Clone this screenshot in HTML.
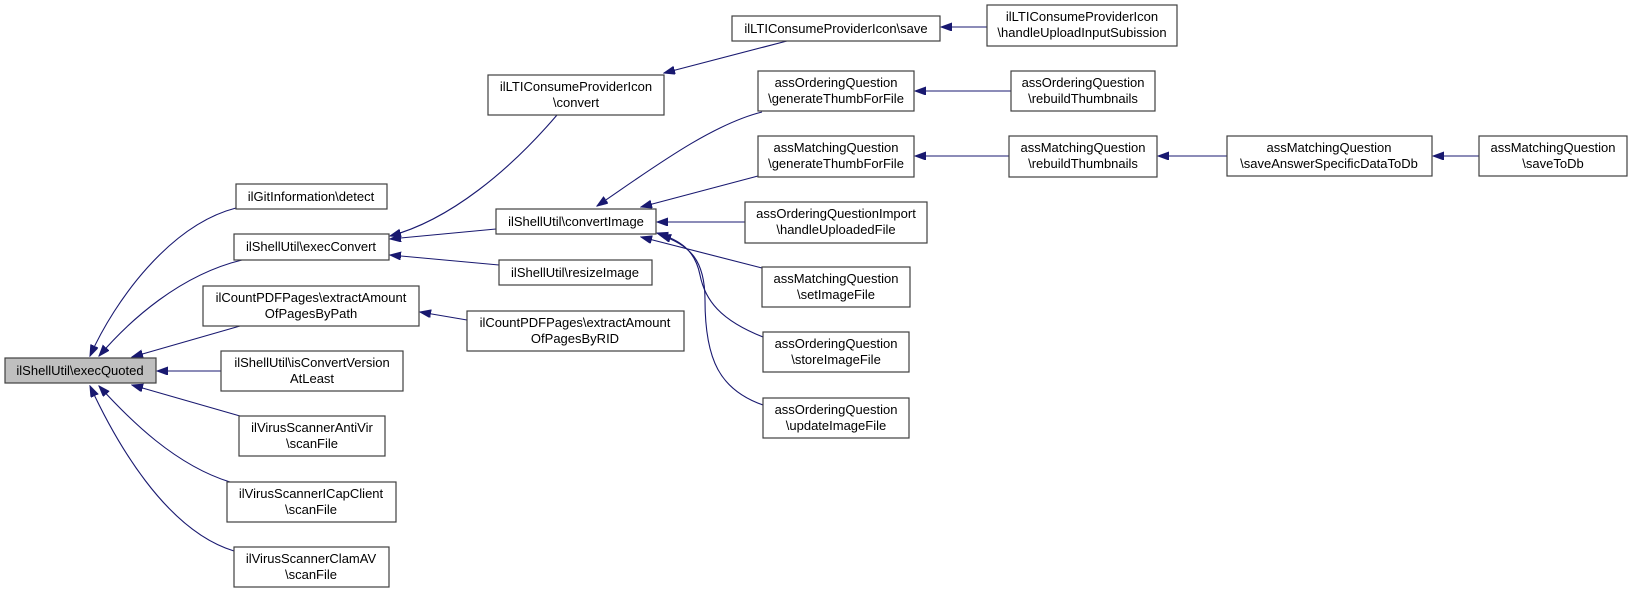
<!DOCTYPE html>
<html><head><meta charset="utf-8"><style>
html,body{margin:0;padding:0;background:#fff;}
svg{display:block;}
text{font-family:"Liberation Sans",Helvetica,sans-serif;font-size:13px;fill:#000;text-anchor:middle;}
rect{fill:#fff;stroke:#404040;stroke-width:1.2;}
path.e{fill:none;stroke:#191970;stroke-width:1.1;}
</style></head><body>
<svg width="1633" height="593" viewBox="0 0 1633 593" xmlns="http://www.w3.org/2000/svg">
<defs>
<marker id="a" markerUnits="userSpaceOnUse" markerWidth="12" markerHeight="9" refX="11" refY="4" orient="auto">
<path d="M0,0 L11,4 L0,8 z" fill="#191970" stroke="#191970"/>
</marker>
</defs>
<!-- edges -->
<path class="e" marker-end="url(#a)" d="M236,208 C170,225 115,300 90,356"/>
<path class="e" marker-end="url(#a)" d="M242,260 C180,275 130,320 99,356"/>
<path class="e" marker-end="url(#a)" d="M240,326 L132,357"/>
<path class="e" marker-end="url(#a)" d="M221,371 L157,371"/>
<path class="e" marker-end="url(#a)" d="M240,416 L132,385"/>
<path class="e" marker-end="url(#a)" d="M230,482 C175,465 130,420 99,386"/>
<path class="e" marker-end="url(#a)" d="M234,551 C165,530 115,440 90,386"/>
<path class="e" marker-end="url(#a)" d="M557,115 C510,170 450,220 390,236"/>
<path class="e" marker-end="url(#a)" d="M496,229 L390,239"/>
<path class="e" marker-end="url(#a)" d="M499,265 L390,255"/>
<path class="e" marker-end="url(#a)" d="M467,320 L420,312"/>
<path class="e" marker-end="url(#a)" d="M787,41 L664,73"/>
<path class="e" marker-end="url(#a)" d="M987,27 L941,27"/>
<path class="e" marker-end="url(#a)" d="M762,112 C710,125 650,170 597,206"/>
<path class="e" marker-end="url(#a)" d="M758,176 L641,207"/>
<path class="e" marker-end="url(#a)" d="M745,222 L657,222"/>
<path class="e" marker-end="url(#a)" d="M762,268 L641,237"/>
<path class="e" marker-end="url(#a)" d="M763,337 C720,320 705,300 700,275 C695,250 680,240 657,233"/>
<path class="e" marker-end="url(#a)" d="M763,405 C720,390 705,360 705,300 C705,260 690,245 660,235"/>
<path class="e" marker-end="url(#a)" d="M1011,91 L915,91"/>
<path class="e" marker-end="url(#a)" d="M1009,156 L915,156"/>
<path class="e" marker-end="url(#a)" d="M1227,156 L1158,156"/>
<path class="e" marker-end="url(#a)" d="M1479,156 L1433,156"/>
<!-- nodes -->
<rect x="5" y="358" width="151" height="25" style="fill:#bfbfbf"/><text x="80" y="375">ilShellUtil\execQuoted</text>
<rect x="236" y="184" width="151" height="25"/><text x="311" y="201">ilGitInformation\detect</text>
<rect x="234" y="234" width="155" height="26"/><text x="311" y="251">ilShellUtil\execConvert</text>
<rect x="203" y="286" width="216" height="40"/><text x="311" y="302">ilCountPDFPages\extractAmount</text><text x="311" y="318">OfPagesByPath</text>
<rect x="221" y="351" width="182" height="40"/><text x="312" y="367">ilShellUtil\isConvertVersion</text><text x="312" y="383">AtLeast</text>
<rect x="239" y="416" width="146" height="40"/><text x="312" y="432">ilVirusScannerAntiVir</text><text x="312" y="448">\scanFile</text>
<rect x="227" y="482" width="169" height="40"/><text x="311" y="498">ilVirusScannerICapClient</text><text x="311" y="514">\scanFile</text>
<rect x="234" y="547" width="155" height="40"/><text x="311" y="563">ilVirusScannerClamAV</text><text x="311" y="579">\scanFile</text>
<rect x="488" y="75" width="176" height="40"/><text x="576" y="91">ilLTIConsumeProviderIcon</text><text x="576" y="107">\convert</text>
<rect x="496" y="209" width="160" height="25"/><text x="576" y="226">ilShellUtil\convertImage</text>
<rect x="499" y="260" width="153" height="25"/><text x="575" y="277">ilShellUtil\resizeImage</text>
<rect x="467" y="311" width="217" height="40"/><text x="575" y="327">ilCountPDFPages\extractAmount</text><text x="575" y="343">OfPagesByRID</text>
<rect x="732" y="16" width="208" height="25"/><text x="836" y="33">ilLTIConsumeProviderIcon\save</text>
<rect x="987" y="5" width="190" height="41"/><text x="1082" y="21">ilLTIConsumeProviderIcon</text><text x="1082" y="37">\handleUploadInputSubission</text>
<rect x="758" y="71" width="156" height="40"/><text x="836" y="87">assOrderingQuestion</text><text x="836" y="103">\generateThumbForFile</text>
<rect x="1011" y="71" width="144" height="40"/><text x="1083" y="87">assOrderingQuestion</text><text x="1083" y="103">\rebuildThumbnails</text>
<rect x="758" y="136" width="156" height="41"/><text x="836" y="152">assMatchingQuestion</text><text x="836" y="168">\generateThumbForFile</text>
<rect x="1009" y="136" width="148" height="41"/><text x="1083" y="152">assMatchingQuestion</text><text x="1083" y="168">\rebuildThumbnails</text>
<rect x="1227" y="136" width="205" height="40"/><text x="1329" y="152">assMatchingQuestion</text><text x="1329" y="168">\saveAnswerSpecificDataToDb</text>
<rect x="1479" y="136" width="148" height="40"/><text x="1553" y="152">assMatchingQuestion</text><text x="1553" y="168">\saveToDb</text>
<rect x="745" y="202" width="182" height="41"/><text x="836" y="218">assOrderingQuestionImport</text><text x="836" y="234">\handleUploadedFile</text>
<rect x="762" y="267" width="148" height="40"/><text x="836" y="283">assMatchingQuestion</text><text x="836" y="299">\setImageFile</text>
<rect x="763" y="332" width="146" height="40"/><text x="836" y="348">assOrderingQuestion</text><text x="836" y="364">\storeImageFile</text>
<rect x="763" y="398" width="146" height="40"/><text x="836" y="414">assOrderingQuestion</text><text x="836" y="430">\updateImageFile</text>
</svg>
</body></html>
